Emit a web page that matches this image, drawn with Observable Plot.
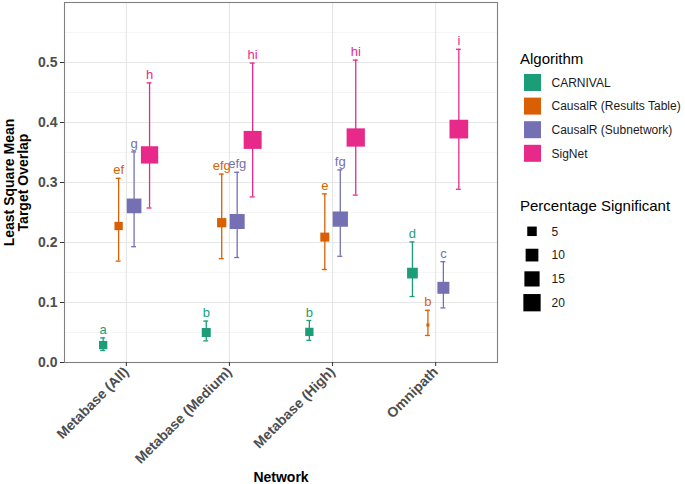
<!DOCTYPE html>
<html>
<head>
<meta charset="utf-8">
<script src="https://cdn.jsdelivr.net/npm/d3@7"></script>
<script src="https://cdn.jsdelivr.net/npm/@observablehq/plot@0.6"></script>
<style>
  html, body { margin: 0; padding: 0; background: #fff; }
  #wrap { position: relative; width: 685px; height: 484px; font-family: "Liberation Sans", Arial, Helvetica, sans-serif; }
  #legend { position: absolute; left: 0; top: 0; pointer-events: none; }
  g[aria-label="x-axis tick label"] text, g[aria-label="y-axis tick label"] text { font-weight: bold; }
  g[aria-label="x-axis label"] text { font-weight: bold; }
</style>
</head>
<body>
<div id="wrap"></div>
<script>
// ---- data ----
const networks = ["Metabase (All)", "Metabase (Medium)", "Metabase (High)", "Omnipath"];
const algorithms = ["CARNIVAL", "CausalR (Results Table)", "CausalR (Subnetwork)", "SigNet"];
const algColors = ["#1B9E77", "#D95F02", "#7570B3", "#E7298A"];

// rows: algorithm, columns: network
const lsMean = [
  [0.029, 0.050, 0.051, 0.149],
  [0.2275, 0.233, 0.209, 0.0625],
  [0.261, 0.235, 0.239, 0.1245],
  [0.346, 0.371, 0.375, 0.389]
];
const lowerCI = [
  [0.020, 0.036, 0.037, 0.110],
  [0.169, 0.173, 0.155, 0.045],
  [0.193, 0.175, 0.177, 0.091],
  [0.2575, 0.276, 0.279, 0.2887]
];
const upperCI = [
  [0.041, 0.069, 0.070, 0.201],
  [0.307, 0.314, 0.281, 0.087],
  [0.351, 0.317, 0.321, 0.168],
  [0.466, 0.499, 0.504, 0.522]
];
const pctSignificant = [
  [3.6, 4.4, 3.6, 6.7],
  [3.6, 4.7, 4.4, 0.15],
  [13.9, 14.5, 15.2, 8.7],
  [20.0, 21.8, 22.6, 23.8]
];
const groupLetters = [
  ["a", "b", "b", "d"],
  ["ef", "efg", "e", "b"],
  ["g", "efg", "fg", "c"],
  ["h", "hi", "hi", "i"]
];
const yTicks = [0, 0.1, 0.2, 0.3, 0.4, 0.5];
const yMinor = [0.05, 0.15, 0.25, 0.35, 0.45, 0.55];
const sizeBreaks = [5, 10, 15, 20];
const yTitle = "Least Square Mean\nTarget Overlap";
const xTitle = "Network";

// ---- build table ----
const dodge = 0.15;   // position_dodge(0.6) across 4 groups
const capHalf = 0.024;
const rows = [];
algorithms.forEach((alg, a) => {
  networks.forEach((net, n) => {
    rows.push({
      alg, net,
      xpos: n + 1 + (a - 1.5) * dodge,
      mean: lsMean[a][n],
      lo: lowerCI[a][n],
      hi: upperCI[a][n],
      pct: pctSignificant[a][n],
      letter: groupLetters[a][n]
    });
  });
});

const font = "'Liberation Sans', Arial, Helvetica, sans-serif";

const chart = Plot.plot({
  width: 685,
  height: 484,
  marginLeft: 64,
  marginRight: 188,
  marginTop: 2,
  marginBottom: 122,
  style: { fontFamily: font, fontSize: "12px", background: "white", overflow: "visible" },
  x: { domain: [0.4, 4.6] },
  y: { domain: [0, 0.6] },
  color: { domain: algorithms, range: algColors },
  r: { type: "pow", exponent: 0.5, domain: [5, 20], range: [5.36, 9.76] },
  marks: [
    Plot.ruleY(yMinor, { stroke: "#efefef", strokeWidth: 0.6 }),
    Plot.gridY(yTicks, { stroke: "#e6e6e6", strokeOpacity: 1, strokeWidth: 1.1 }),
    Plot.gridX([1, 2, 3, 4], { stroke: "#e6e6e6", strokeOpacity: 1, strokeWidth: 1.1 }),
    Plot.ruleX(rows, { x: "xpos", y1: "lo", y2: "hi", stroke: "alg", strokeWidth: 1.3 }),
    Plot.ruleY(rows, { y: "hi", x1: d => d.xpos - capHalf, x2: d => d.xpos + capHalf, stroke: "alg", strokeWidth: 1.3 }),
    Plot.ruleY(rows, { y: "lo", x1: d => d.xpos - capHalf, x2: d => d.xpos + capHalf, stroke: "alg", strokeWidth: 1.3 }),
    Plot.dot(rows, { x: "xpos", y: "mean", r: "pct", symbol: "square", fill: "alg", stroke: null }),
    Plot.text(rows, { x: "xpos", y: "hi", text: "letter", fill: "alg", dy: -4, lineAnchor: "bottom", fontSize: 13 }),
    Plot.frame({ stroke: "#808080", strokeWidth: 1.1 }),
    Plot.axisY(yTicks, {
      tickFormat: d3.format(".1f"),
      tickSize: 4, tickPadding: 3,
      stroke: "#333", fill: "#4d4d4d",
      fontSize: 14, fontWeight: "bold",
      label: null
    }),
    Plot.text([yTitle], {
      frameAnchor: "left", rotate: -90, dx: -60,
      lineAnchor: "top", textAnchor: "middle", lineHeight: 0.98,
      fontSize: 14, fontWeight: "bold", fill: "#000"
    }),
    Plot.axisX([1, 2, 3, 4], {
      tickFormat: d => networks[d - 1],
      tickRotate: -45,
      tickSize: 4, tickPadding: 3,
      stroke: "#333", fill: "#4d4d4d",
      fontSize: 14, fontWeight: "bold",
      label: xTitle,
      labelAnchor: "center", labelArrow: "none", labelOffset: 119
    })
  ]
});

const wrap = document.getElementById("wrap");
wrap.appendChild(chart);
d3.select(chart).selectAll('g[aria-label="x-axis label"]').attr("fill", "#000").attr("font-size", 14);

// ---- legends (overlay), built from the plot's own scales ----
const colorScale = chart.scale("color");
const rScale = chart.scale("r");
const svg = d3.select(wrap).append("svg")
  .attr("id", "legend").attr("width", 685).attr("height", 484)
  .style("font-family", font);

svg.append("text").attr("x", 520).attr("y", 64).attr("font-size", 15).attr("fill", "#000").text("Algorithm");
const keyStep = 23.6;
algorithms.forEach((alg, i) => {
  const cy = 82.5 + i * keyStep;
  svg.append("rect").attr("x", 524).attr("y", cy - 8.5).attr("width", 17).attr("height", 17)
    .attr("fill", colorScale.apply(alg));
  svg.append("text").attr("x", 551.5).attr("y", cy).attr("dy", "0.36em")
    .attr("font-size", 12).attr("fill", "#1a1a1a").text(alg);
});

svg.append("text").attr("x", 520).attr("y", 210.5).attr("font-size", 15).attr("fill", "#000").text("Percentage Significant");
sizeBreaks.forEach((v, i) => {
  const cy = 231.3 + i * 23.8;
  const side = rScale.apply(v) * Math.sqrt(Math.PI);
  svg.append("rect").attr("x", 532 - side / 2).attr("y", cy - side / 2).attr("width", side).attr("height", side)
    .attr("fill", "#000");
  svg.append("text").attr("x", 551.5).attr("y", cy).attr("dy", "0.36em")
    .attr("font-size", 12).attr("fill", "#1a1a1a").text(v);
});
</script>
</body>
</html>
